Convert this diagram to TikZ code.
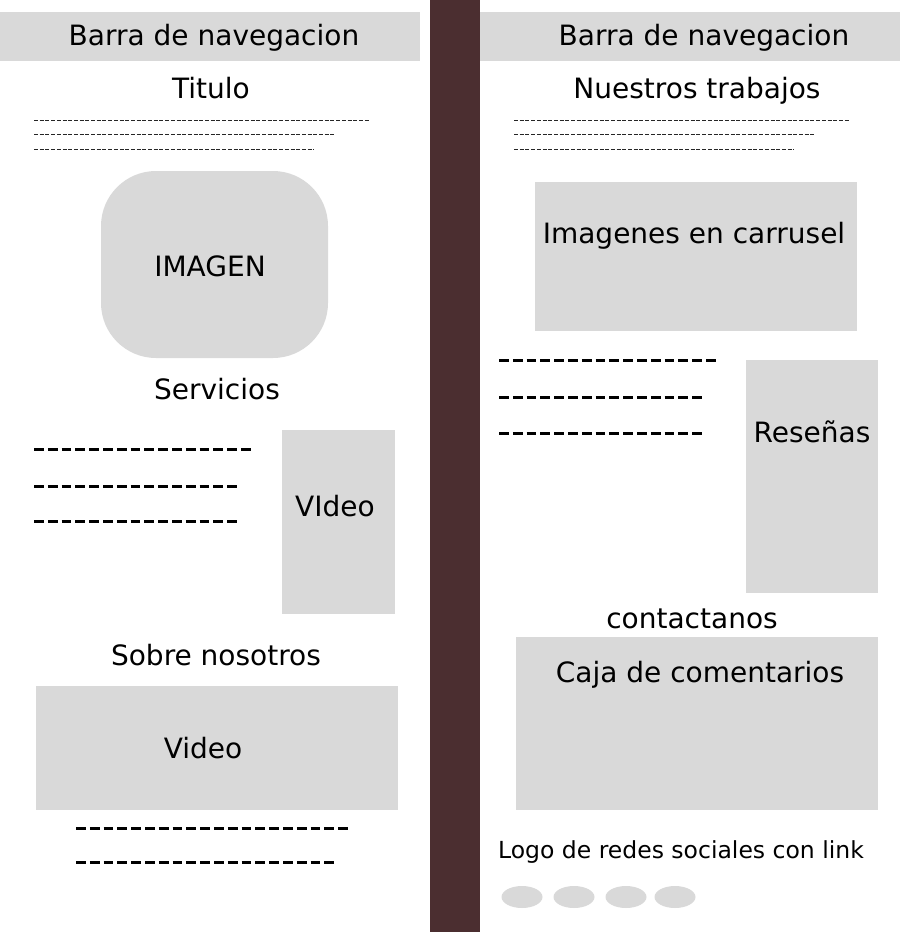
\documentclass[tikz,border=0pt]{standalone}
\usepackage{fontspec}
\setmainfont{DejaVu Sans}
\usetikzlibrary{positioning, shapes.geometric}
\definecolor{boxgray}{HTML}{D9D9D9}
\definecolor{barbrown}{HTML}{4B2E30}

\begin{document}
\begin{tikzpicture}[x=1pt, y=-1pt,
    BX/.style args = {#1/#2}{
                    fill=boxgray,% box colour
                    minimum width=#1pt, minimum height=#2pt,
                    inner sep=0pt, outer sep=0pt},
    LB/.style = {font=\fontsize{28}{30}\selectfont,
                    anchor=base, inner sep=0pt},
    SLB/.style = {font=\fontsize{23.5}{26}\selectfont,
                    anchor=base, inner sep=0pt},
    DL/.style = {line width=3pt, dash pattern=on 9.8pt off 4pt},
    FL/.style = {line width=1pt, black!85, dash pattern=on 4pt off 1.7pt}]
%---
\useasboundingbox (0,0) rectangle (910,932);
% divider
\node (bar) [BX=50/932, fill=barbrown] at (455,466) {};
% navigation bars
\node (navL) [BX=420/49] at (210,36.5) {};
\node (navR) [BX=420/49] at (690,36.5) {};
\node (tnavL) [LB] at (214,45) {Barra de navegacion};
\node (tnavR) [LB] at (704,45) {Barra de navegacion};
% left page
\node (titulo) [LB] at (211,98) {Titulo};
\foreach \y/\l in {120/335, 134/302, 149/280}
    \draw[FL] (34,\y) -- ++(\l,0);
\node (img) [BX=227/187, rounded corners=55pt] at (214.5,264.5) {};
\node (timg) [LB] at (210,276) {IMAGEN};
\node (serv) [LB] at (217,399) {Servicios};
\foreach \y/\l in {449/216.8, 486/203, 521/203}
    \draw[DL] (34,\y) -- ++(\l,0);
\node (vidS) [BX=113/184] at (338.5,522) {};
\node (tvidS) [LB] at (335,516) {VIdeo};
\node (sobre) [LB] at (216,665) {Sobre nosotros};
\node (vidA) [BX=362/124] at (217,748) {};
\node (tvidA) [LB] at (203,758) {Video};
\foreach \y/\l in {828/272, 862/258}
    \draw[DL] (76,\y) -- ++(\l,0);
% right page
\node (trab) [LB] at (697,98) {Nuestros trabajos};
\foreach \y/\l in {120/335, 134/302, 149/280}
    \draw[FL] (514,\y) -- ++(\l,0);
\node (car) [BX=322/149] at (696,256.5) {};
\node (tcar) [LB] at (694,243) {Imagenes en carrusel};
\foreach \y/\l in {360/216.8, 397/203, 433/203}
    \draw[DL] (499,\y) -- ++(\l,0);
\node (res) [BX=132/233] at (812,476.5) {};
\node (tres) [LB] at (812,442) {Reseñas};
\node (cont) [LB] at (692,628) {contactanos};
\node (caja) [BX=362/173] at (697,723.5) {};
\node (tcaja) [LB] at (700,682) {Caja de comentarios};
\node (logo) [SLB] at (681,858) {Logo de redes sociales con link};
% social icons
\foreach \x [count=\i] in {522,574,626,675}
    \node (ico\i) [fill=boxgray, ellipse, minimum width=41pt,
                   minimum height=22pt, inner sep=0pt] at (\x,897) {};
\end{tikzpicture}
\end{document}
